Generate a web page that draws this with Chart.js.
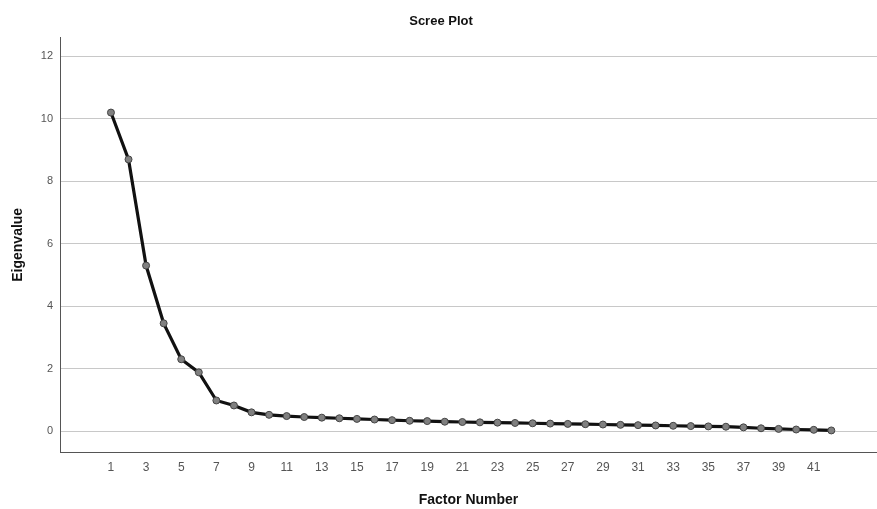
<!DOCTYPE html>
<html>
<head>
<meta charset="utf-8">
<script src="https://cdn.jsdelivr.net/npm/chart.js@4"></script>
<style>
  html, body { margin: 0; padding: 0; background: #fff; overflow: hidden; }
  /* a little wider than the window: chart.js keeps ~5px empty at the right */
  #wrap { width: 882px; height: 509px; }
</style>
</head>
<body>
<div id="wrap"><canvas id="scree"></canvas></div>
<script>
// Scree plot values
const factors = [
    1, 2, 3, 4, 5, 6, 7, 8, 9, 10, 11, 12, 13, 14, 15, 16, 17, 18, 19, 20, 21,
    22, 23, 24, 25, 26, 27, 28, 29, 30, 31, 32, 33, 34, 35, 36, 37, 38, 39, 40, 41, 42
];
const eigenvalues = [
    10.2, 8.7, 5.3, 3.45, 2.3, 1.88, 0.98, 0.82, 0.6, 0.52, 0.48,
    0.45, 0.43, 0.41, 0.39, 0.37, 0.35, 0.33, 0.32, 0.30, 0.29,
    0.28, 0.27, 0.26, 0.25, 0.24, 0.23, 0.22, 0.21, 0.20, 0.19,
    0.18, 0.17, 0.16, 0.15, 0.14, 0.12, 0.09, 0.07, 0.05, 0.04, 0.02
];
const xTicks = [1, 3, 5, 7, 9, 11, 13, 15, 17, 19, 21, 23, 25, 27, 29, 31, 33, 35, 37, 39, 41];
const yTicks = [0, 2, 4, 6, 8, 10, 12];

const fontFamily = '"Liberation Sans", Arial, sans-serif';

const points = factors.map((f, i) => ({ x: f, y: eigenvalues[i] }));

new Chart(document.getElementById('scree'), {
    type: 'line',
    data: {
        datasets: [{
            label: 'Eigenvalue',
            data: points,
            borderColor: '#111',
            borderWidth: 3.2,
            tension: 0,
            pointRadius: 3.5,
            pointBackgroundColor: '#808080',
            pointBorderColor: '#444',
            pointBorderWidth: 1,
            fill: false
        }]
    },
    options: {
        responsive: true,
        maintainAspectRatio: false,
        animation: false,
        layout: { padding: 0 },
        plugins: {
            legend: { display: false },
            tooltip: { enabled: false },
            title: {
                display: true,
                text: 'Scree Plot',
                color: '#111',
                font: { family: fontFamily, size: 13, weight: 'bold' },
                padding: { top: 14, bottom: 8 }
            }
        },
        scales: {
            x: {
                type: 'linear',
                min: -1.9,
                max: 44.6,
                afterBuildTicks: s => { s.ticks = xTicks.map(v => ({ value: v })); },
                afterFit: s => { s.height = 57; },
                grid: { display: false, drawTicks: false },
                border: { display: true, color: '#555', width: 1 },
                ticks: {
                    color: '#555',
                    padding: 8,
                    autoSkip: false,
                    maxRotation: 0,
                    font: { family: fontFamily, size: 12 }
                },
                title: {
                    display: true,
                    text: 'Factor Number',
                    color: '#111',
                    font: { family: fontFamily, size: 14, weight: 'bold' },
                    padding: { top: 4, bottom: 0 }
                }
            },
            y: {
                type: 'linear',
                min: -0.67,
                max: 12.6,
                afterBuildTicks: s => { s.ticks = yTicks.map(v => ({ value: v })); },
                afterFit: s => { s.width = 60; },
                grid: { color: '#c8c8c8', lineWidth: 1, drawTicks: false },
                border: { display: true, color: '#555', width: 1 },
                ticks: {
                    color: '#555',
                    padding: 7,
                    font: { family: fontFamily, size: 11 }
                },
                title: {
                    display: true,
                    text: 'Eigenvalue',
                    color: '#111',
                    font: { family: fontFamily, size: 14, weight: 'bold' },
                    padding: { top: 10, bottom: 0 }
                }
            }
        }
    }
});
</script>
</body>
</html>
